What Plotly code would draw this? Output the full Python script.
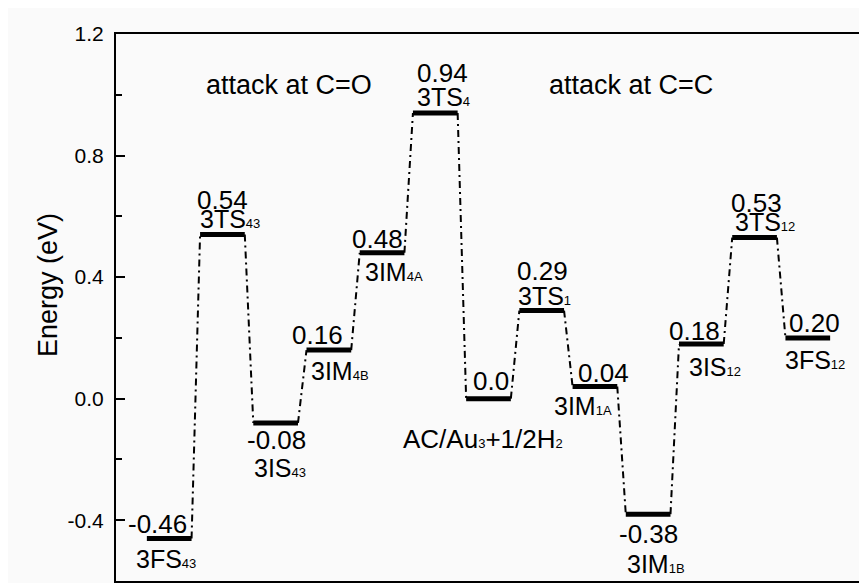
import plotly.graph_objects as go

# ---- data ----
states = ["3FS43", "3TS43", "3IS43", "3IM4B", "3IM4A", "3TS4", "AC/Au3+1/2H2",
          "3TS1", "3IM1A", "3IM1B", "3IS12", "3TS12", "3FS12"]
state_main = ["3FS", "3TS", "3IS", "3IM", "3IM", "3TS", None, "3TS", "3IM", "3IM", "3IS", "3TS", "3FS"]
state_sub = ["43", "43", "43", "4B", "4A", "4", None, "1", "1A", "1B", "12", "12", "12"]
energies = [-0.46, 0.54, -0.08, 0.16, 0.48, 0.94, 0.0, 0.29, 0.04, -0.38, 0.18, 0.53, 0.20]
y_ticks = [-0.4, 0.0, 0.4, 0.8, 1.2]
y_ticktext = ["-0.4", "0.0", "0.4", "0.8", "1.2"]
region_labels = ["attack at C=O", "attack at C=C"]

HALF = 0.42
FONT = "Liberation Sans, Arial, sans-serif"
SUB = "<span style='font-size:13px'>{}</span>"


def label_html(i):
    if state_main[i] is None:
        return "AC/Au" + SUB.format("3") + "+1/2H" + SUB.format("2")
    return state_main[i] + SUB.format(state_sub[i])


fig = go.Figure()

# connectors (dash-dot)
cx, cy = [], []
for i in range(len(energies) - 1):
    cx += [i + HALF, i + 1 - HALF, None]
    cy += [energies[i], energies[i + 1], None]
fig.add_trace(go.Scatter(x=cx, y=cy, mode="lines",
                         line=dict(color="black", width=2, dash="7px,4px,2px,4px"),
                         hoverinfo="skip", showlegend=False))

# energy levels (thick bars)
bx, by = [], []
for i, e in enumerate(energies):
    bx += [i - HALF, i + HALF, None]
    by += [e, e, None]
fig.add_trace(go.Scatter(x=bx, y=by, mode="lines",
                         line=dict(color="black", width=5),
                         hoverinfo="skip", showlegend=False))

# label placement (pixel offsets: value label, state label)
val_off = [(-11.5, 14), (0, 34.5), (0.5, -17), (-11.5, 15.5), (-5, 14), (7, 40.5), (2, 17.5),
           (1, 40), (8.5, 14), (0.5, -20), (-7, 13), (1.5, 34.5), (6.5, 15)]
name_off = [(-3, -21), (8, 15.5), (4, -45), (11, -20.5), (11.5, -19), (8.5, 16.5), (-5.5, -40),
            (3, 15), (-11.5, -19.5), (7.5, -49.5), (13.5, -23), (10, 15.5), (7.5, -22)]

for i, e in enumerate(energies):
    vtxt = "0.0" if e == 0 else f"{e:.2f}"
    fig.add_annotation(x=i, y=e, text=vtxt, showarrow=False, xanchor="center", yanchor="middle",
                       xshift=val_off[i][0], yshift=val_off[i][1],
                       font=dict(family=FONT, size=26, color="black"))
    fig.add_annotation(x=i, y=e, text=label_html(i), showarrow=False, xanchor="center",
                       yanchor="middle", xshift=name_off[i][0], yshift=name_off[i][1],
                       font=dict(family=FONT, size=26 if state_main[i] is None else 25,
                                 color="black"))

fig.add_annotation(x=2.26, y=1.032, text=region_labels[0], showarrow=False,
                   xanchor="center", yanchor="middle", font=dict(family=FONT, size=27, color="black"))
fig.add_annotation(x=8.68, y=1.032, text=region_labels[1], showarrow=False,
                   xanchor="center", yanchor="middle", font=dict(family=FONT, size=27, color="black"))

# y-axis title
fig.add_annotation(xref="paper", yref="paper", x=-0.092, y=0.542, text="Energy (eV)",
                   textangle=-90, showarrow=False, xanchor="center", yanchor="middle",
                   font=dict(family=FONT, size=27, color="black"))

fig.update_layout(
    width=859, height=575,
    margin=dict(l=108, r=6, t=26, b=2),
    paper_bgcolor="#fafafa", plot_bgcolor="#fafafa",
    font=dict(family=FONT, color="black"),
    xaxis=dict(range=[-1, 13], showgrid=False, zeroline=False, showticklabels=False,
               ticks="", showline=True, linecolor="black", linewidth=2, mirror=True),
    yaxis=dict(range=[-0.6, 1.2], tickvals=y_ticks, ticktext=y_ticktext, showgrid=False,
               zeroline=False, ticks="inside", ticklen=9, tickwidth=1.5, tickcolor="black",
               minor=dict(dtick=0.2, tick0=0, ticks="inside", ticklen=6, tickwidth=1.5,
                          tickcolor="black", showgrid=False),
               showline=True, linecolor="black", linewidth=2, mirror=True,
               tickfont=dict(family=FONT, size=21, color="black"), ticklabelstandoff=6),
)

fig.write_html("out.html")
